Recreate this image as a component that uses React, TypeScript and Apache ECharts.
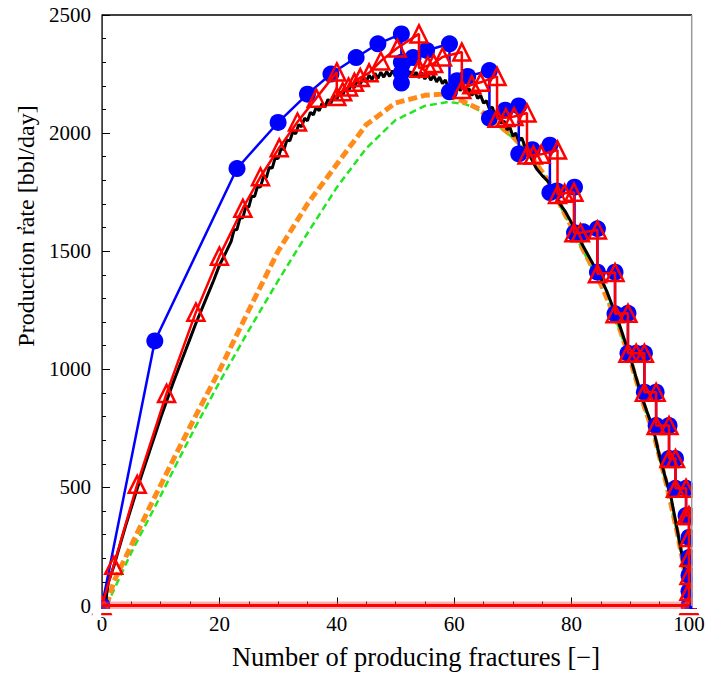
import React, { useEffect, useRef } from "react";
import * as echarts from "echarts";

// ---- data ----
const xTickValues = [0, 20, 40, 60, 80, 100];
const yTickValues = [0, 500, 1000, 1500, 2000, 2500];

const blueCircles: number[][] = [
  [0, 0], [9, 1120], [23, 1850], [30, 2045], [35, 2165], [39, 2250], [43.3, 2320], [47, 2378],
  [51, 2420], [51, 2300], [51, 2255], [51, 2212], [53, 2320], [55.3, 2350], [59.2, 2378],
  [59.2, 2175], [60.5, 2222], [62.3, 2240], [66, 2265], [66, 2063], [68.7, 2097], [71, 2115],
  [71, 1912], [73.3, 1930], [76.3, 1949], [76.3, 1748], [77.5, 1755], [80.5, 1771], [80.5, 1578],
  [82, 1582], [84.4, 1595], [84.4, 1411], [87.4, 1411], [87.4, 1235], [89.6, 1237], [89.6, 1068],
  [91, 1068], [92.4, 1068], [92.4, 903], [94.4, 903], [94.4, 762], [96.6, 762], [96.6, 622],
  [97.7, 622], [97.7, 496], [99.5, 496], [99.5, 381], [100, 381], [100, 288], [100, 203],
  [100, 127], [100, 60], [100, 0],
];

const redTriangles: number[][] = [
  [0, 0], [2, 170], [6, 513], [11, 898], [16, 1242], [20, 1479], [24, 1682], [27, 1815],
  [30.2, 1938], [33.3, 2047], [36.5, 2148], [40, 2259], [40, 2155], [41, 2175], [42, 2195],
  [43, 2215], [44, 2235], [45.5, 2255], [47.5, 2305], [50.3, 2360], [54, 2420], [54, 2275],
  [55.5, 2285], [56.5, 2295], [58, 2322], [61.3, 2343], [61.3, 2185], [63, 2205], [64.5, 2215],
  [67.3, 2240], [67.3, 2063], [68.8, 2066], [70.2, 2070], [72.4, 2085], [72.4, 1907], [73.5, 1907],
  [74.8, 1910], [77.6, 1928], [77.6, 1740], [78.8, 1745], [80.4, 1750], [80.4, 1578], [81.5, 1578],
  [84.4, 1590], [84.4, 1405], [87.4, 1410], [87.4, 1235], [89.6, 1237], [89.6, 1068], [91, 1068],
  [92.4, 1068], [92.4, 903], [94.4, 903], [94.4, 762], [96.6, 762], [96.6, 622], [97.7, 622],
  [97.7, 496], [99.5, 496], [99.5, 381], [100, 381], [100, 288], [100, 203], [100, 127],
  [100, 60], [100, 0],
];

const blackJagged: number[][] = [
  [0.6, 0], [0.8, 50], [1.1, 100], [2, 165], [3, 250], [4, 335], [5, 415], [6, 495], [7, 570],
  [8, 645], [9, 720], [10, 795], [11, 865], [12, 935], [13, 1000], [14, 1065], [15, 1130],
  [16, 1195], [17, 1255], [18, 1315], [19, 1375], [20, 1440], [21, 1490],
  [22, 1542], [22.5, 1590], [23, 1592], [23.5, 1640], [24, 1642], [24.5, 1688], [25, 1687],
  [25.5, 1733], [26, 1732], [26.5, 1775], [27, 1772], [27.5, 1815], [28, 1812], [28.5, 1855],
  [29, 1852], [29.5, 1895], [30, 1892], [30.5, 1934], [31, 1930], [31.5, 1971], [32, 1967],
  [32.5, 2005], [33, 1997], [33.5, 2035], [34, 2027], [34.5, 2063], [35, 2052], [35.5, 2088],
  [36, 2077], [36.5, 2109], [37, 2095], [37.5, 2126], [38, 2112], [38.5, 2143], [39, 2127],
  [39.5, 2158], [40, 2142], [40.5, 2174], [41, 2160], [41.5, 2191], [42, 2177], [42.5, 2208],
  [43, 2192], [43.5, 2223], [44, 2207], [44.5, 2235], [45, 2217], [45.5, 2245], [46, 2227],
  [46.5, 2253], [47, 2232], [47.5, 2258], [48, 2237], [48.5, 2261], [49, 2240], [49.5, 2264],
  [50, 2242], [50.5, 2265], [51, 2241], [51.5, 2264], [52, 2240], [52.5, 2261], [53, 2237],
  [53.5, 2258], [54, 2234], [54.5, 2255], [55, 2229], [55.5, 2250], [56, 2224], [56.5, 2244],
  [57, 2217], [57.5, 2237], [58, 2210], [58.5, 2225], [59, 2192], [59.5, 2213], [60, 2187],
  [60.5, 2207], [61, 2180], [61.5, 2199], [62, 2172], [62.5, 2189], [63, 2160], [63.5, 2177],
  [64, 2147], [64.5, 2160], [65, 2127], [65.5, 2137], [66, 2102], [66.5, 2110], [67, 2072],
  [67.5, 2080], [68, 2042], [68.5, 2051], [69, 2014], [69.5, 2024], [70, 1987], [70.5, 2000],
  [71, 1967], [71.5, 1980], [72, 1947], [73, 1900], [74, 1850], [75, 1820], [76, 1795],
  [77, 1750], [78, 1700], [79, 1665], [80, 1620], [81, 1570], [82, 1520], [83, 1475],
  [84, 1430], [85, 1385], [86, 1330], [87, 1265], [88, 1200], [89, 1125], [90, 1050],
  [91, 965], [92, 880], [93, 810], [94, 740], [95, 630], [96, 540], [97, 450], [98, 320],
  [99, 190], [99.6, 100], [100, 0],
];

const orangeDashed: number[][] = [
  [0.8, 0], [2, 100], [5, 255], [8, 410], [10, 510], [13, 660], [16, 805], [20, 995],
  [25, 1250], [30, 1500], [35, 1700], [40, 1868], [45, 2035], [50, 2128], [55, 2160],
  [58, 2165], [61, 2140], [64, 2105], [67, 2045], [70, 1985], [73, 1905], [76, 1800],
  [79, 1650], [82, 1505], [85, 1360], [88, 1185], [90, 1040], [92, 870], [94, 725],
  [96, 530], [98, 310], [99, 180], [100, 0],
];

const greenDashed: number[][] = [
  [0.8, 0], [5, 225], [10, 465], [13, 615], [16, 760], [20, 945], [25, 1165], [30, 1375],
  [35, 1576], [40, 1770], [45, 1935], [50, 2055], [55, 2115], [59, 2132], [62, 2122],
  [64, 2100], [67, 2040], [70, 1980], [73, 1900], [76, 1795], [79, 1645], [82, 1500],
  [85, 1355], [88, 1180], [90, 1035], [92, 865], [94, 720], [96, 525], [98, 305],
  [99, 175], [100, 0],
];

const redZeroLine: number[][] = [[0, 0], [100, 0]];

const xTitle = "Number of producing fractures [\u2212]";
const yTitle = "Production rate [bbl/day]";

const FONT = "'Liberation Serif', 'Times New Roman', serif";

export default function App() {
  const ref = useRef<HTMLDivElement>(null);

  useEffect(() => {
    const chart = echarts.init(ref.current!, null, { renderer: "svg" });
    const axisCommon = {
      axisLine: { show: true, onZero: false, lineStyle: { color: "#000", width: 1.5 } },
      axisTick: { show: true, inside: true, length: 8, lineStyle: { color: "#000", width: 1 } },
      minorTick: { show: true, length: 4, lineStyle: { color: "#000", width: 1 } },
      splitLine: { show: false },
      minorSplitLine: { show: false },
    };
    chart.setOption({
      animation: false,
      backgroundColor: "#fff",
      grid: { left: 102, right: 34, top: 15, bottom: 76.5, containLabel: false },
      xAxis: {
        type: "value",
        min: xTickValues[0],
        max: xTickValues[xTickValues.length - 1],
        interval: 20,
        ...axisCommon,
        minorTick: { ...axisCommon.minorTick, splitNumber: 4 },
        axisLabel: { color: "#000", fontFamily: FONT, fontSize: 21, margin: 8, formatter: (v: number) => String(v) },
      },
      yAxis: {
        type: "value",
        min: yTickValues[0],
        max: yTickValues[yTickValues.length - 1],
        interval: 500,
        ...axisCommon,
        minorTick: { ...axisCommon.minorTick, splitNumber: 5 },
        axisLabel: { color: "#000", fontFamily: FONT, fontSize: 21, margin: 11, formatter: (v: number) => String(v) },
      },
      series: [
        {
          type: "line", data: greenDashed, symbol: "none", silent: true, z: 2,
          lineStyle: { color: "#22e622", width: 2.5, type: [7, 4] },
        },
        {
          type: "line", data: orangeDashed, symbol: "none", silent: true, z: 3,
          lineStyle: { color: "#ff8c1a", width: 5, type: [9, 4] },
        },
        {
          type: "line", data: blackJagged, symbol: "none", silent: true, z: 4,
          lineStyle: { color: "#000", width: 3 },
        },
        {
          type: "line", data: blueCircles, symbol: "circle", symbolSize: 17, showAllSymbol: true,
          silent: true, z: 5, clip: false,
          lineStyle: { color: "#0000ff", width: 2.5 },
          itemStyle: { color: "#0000ff", borderWidth: 0 },
        },
        {
          type: "line", data: redTriangles, symbol: "triangle", symbolSize: 17, showAllSymbol: true,
          silent: true, z: 6, clip: false,
          lineStyle: { color: "#ff0000", width: 2.5 },
          itemStyle: { color: "rgba(0,0,0,0)", borderColor: "#ff0000", borderWidth: 2.5 },
        },
        {
          type: "line", data: redZeroLine, symbol: "none", silent: true, z: 7,
          lineStyle: { color: "rgba(255,80,80,0.45)", width: 8 },
        },
        {
          type: "line", data: redZeroLine, symbol: "none", silent: true, z: 8,
          lineStyle: { color: "#ff0000", width: 3 },
        },
      ],
      graphic: [
        // masks emulating plot-range clipping of markers
        { type: "rect", z: 100, silent: true, shape: { x: 692.5, y: 0, width: 40, height: 608 }, style: { fill: "#fff" } },
        { type: "rect", z: 100, silent: true, shape: { x: 92, y: 609, width: 640, height: 4 }, style: { fill: "#fff" } },
        { type: "rect", z: 100, silent: true, shape: { x: 92.5, y: 0, width: 8.7, height: 620 }, style: { fill: "#fff" } },
        // frame
        { type: "line", z: 101, silent: true, shape: { x1: 102, y1: 15, x2: 692, y2: 15 }, style: { stroke: "#000", lineWidth: 1.5 } },
        { type: "line", z: 101, silent: true, shape: { x1: 691.7, y1: 15, x2: 691.7, y2: 606 }, style: { stroke: "#999", lineWidth: 1.5 } },
        // titles
        {
          type: "text", z: 102, silent: true, x: 416, y: 657,
          style: { text: xTitle, fill: "#000", font: `26.5px ${FONT}`, textAlign: "center", textVerticalAlign: "middle" },
        },
        {
          type: "text", z: 102, silent: true, x: 26, y: 226, rotation: Math.PI / 2,
          style: { text: yTitle, fill: "#000", font: `24px ${FONT}`, textAlign: "center", textVerticalAlign: "middle" },
        },
        {
          type: "text", z: 102, silent: true, x: 12, y: 228, rotation: Math.PI / 2,
          style: { text: ",", fill: "#000", font: `20px ${FONT}`, textAlign: "center", textVerticalAlign: "middle" },
        },
      ],
    });
    return () => chart.dispose();
  }, []);

  return <div ref={ref} style={{ position: "fixed", left: 0, top: 0, width: 723, height: 682 }} />;
}
